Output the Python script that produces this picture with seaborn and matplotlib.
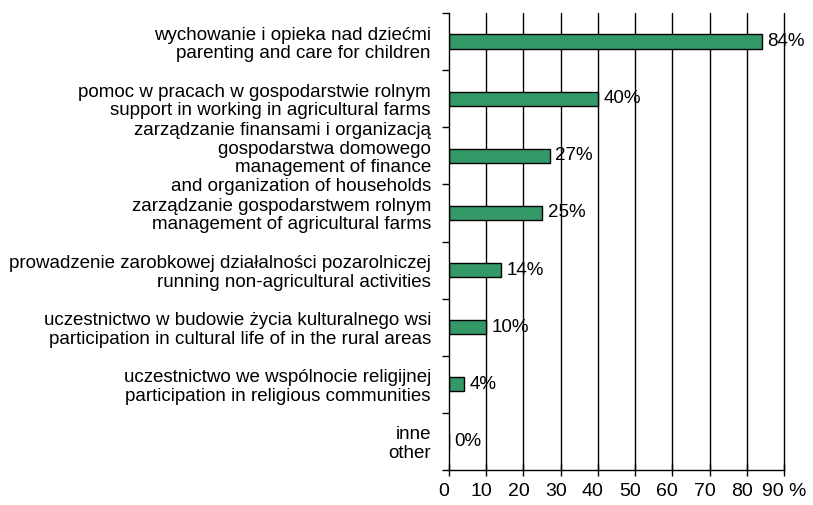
import matplotlib
matplotlib.use("Agg")
import matplotlib.pyplot as plt
import matplotlib.transforms as mtransforms
import seaborn as sns
import pandas as pd

categories = [
    "wychowanie i opieka nad dziećmi\nparenting and care for children",
    "pomoc w pracach w gospodarstwie rolnym\nsupport in working in agricultural farms",
    "zarządzanie finansami i organizacją\ngospodarstwa domowego\nmanagement of finance\nand organization of households",
    "zarządzanie gospodarstwem rolnym\nmanagement of agricultural farms",
    "prowadzenie zarobkowej działalności pozarolniczej\nrunning non-agricultural activities",
    "uczestnictwo w budowie życia kulturalnego wsi\nparticipation in cultural life of in the rural areas",
    "uczestnictwo we wspólnocie religijnej\nparticipation in religious communities",
    "inne\nother",
]
values = [84, 40, 27, 25, 14, 10, 4, 0]
xticks = [0, 10, 20, 30, 40, 50, 60, 70, 80, 90]
xtick_labels = ["0", "10", "20", "30", "40", "50", "60", "70", "80", "90 %"]

df = pd.DataFrame({"category": categories, "value": values})

sns.set_style("white")
plt.rcParams["font.family"] = ["Liberation Sans", "DejaVu Sans"]
plt.rcParams["text.color"] = "black"
plt.rcParams["xtick.color"] = "black"
plt.rcParams["ytick.color"] = "black"
plt.rcParams["xtick.labelcolor"] = "black"
plt.rcParams["ytick.labelcolor"] = "black"

fig = plt.figure(figsize=(8.13, 5.05), dpi=100)
ax = fig.add_axes([449 / 813, 1 - 470 / 505, (784 - 449) / 813, (470 - 13) / 505])

sns.barplot(data=df, x="value", y="category", orient="h", color="#339966",
            saturation=1, width=0.25, edgecolor="black", linewidth=1.0, ax=ax)

ax.set_xlim(0, 90)
ax.set_ylim(len(categories) - 0.5, -0.5)
ax.set_xlabel("")
ax.set_ylabel("")

# vertical grid lines
ax.set_axisbelow(True)
for xv in xticks[1:]:
    ax.axvline(xv, color="black", linewidth=1.0, zorder=0, clip_on=False)

for s in ["top", "right"]:
    ax.spines[s].set_visible(False)
for s in ["left", "bottom"]:
    ax.spines[s].set_color("black")
    ax.spines[s].set_linewidth(1.0)

ax.set_xticks(xticks)
ax.set_xticklabels(xtick_labels, fontsize=14)
ax.tick_params(axis="x", bottom=True, direction="inout", length=8, width=1,
               color="black", labelcolor="black", pad=5)

ax.set_yticks(range(len(categories)))
ax.set_yticklabels(categories, fontsize=13.5)
for lbl in ax.get_yticklabels():
    lbl.set_multialignment("right")
    lbl.set_linespacing(1.12)
    lbl.set_color("black")
ax.tick_params(axis="y", which="major", left=False, length=0, pad=13)
ax.set_yticks([i - 0.5 for i in range(len(categories) + 1)], minor=True)
ax.tick_params(axis="y", which="minor", left=True, direction="out", length=5,
               width=1, color="black")

offset = mtransforms.ScaledTranslation(-5 / 100, 0, fig.dpi_scale_trans)
for lbl in ax.get_xticklabels()[:-1]:
    lbl.set_transform(lbl.get_transform() + offset)

for i, v in enumerate(values):
    ax.annotate(f"{v}%", xy=(v, i), xytext=(4, 0), textcoords="offset points",
                ha="left", va="center", fontsize=13.5, color="black")

fig.savefig("out.png", dpi=100)
